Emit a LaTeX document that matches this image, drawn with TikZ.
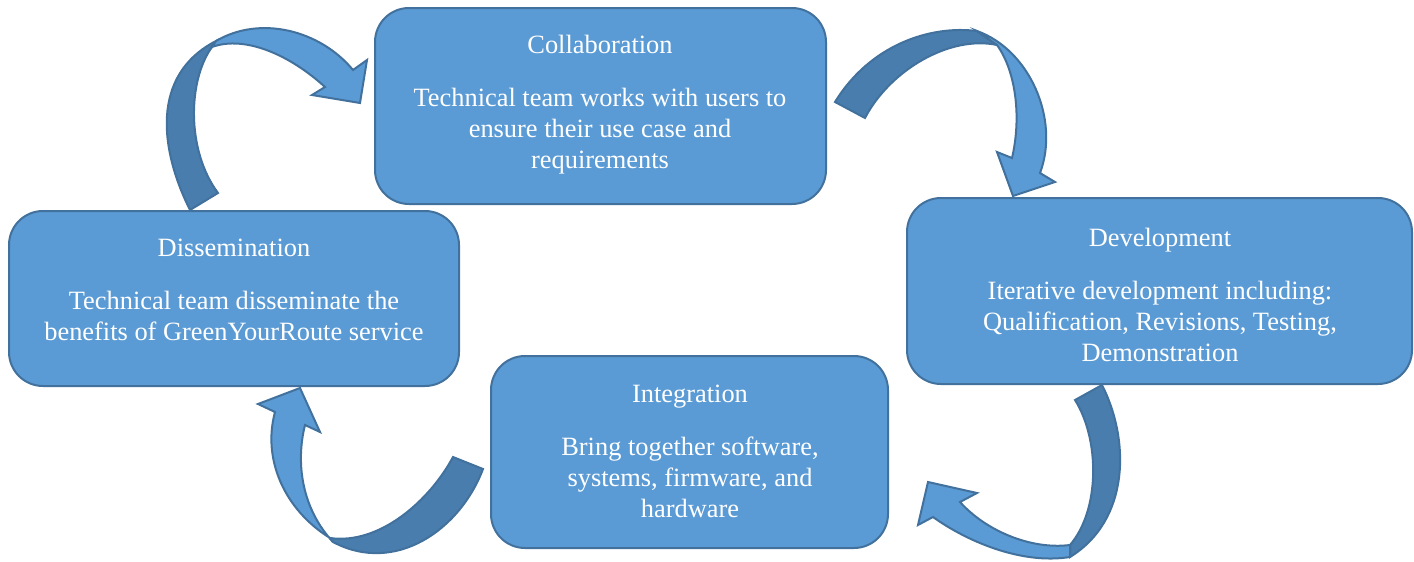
\documentclass[tikz,border=0pt]{standalone}
\usepackage{fontspec}
\setmainfont{Liberation Serif}
\begin{document}
\definecolor{boxfill}{HTML}{5B9BD5}
\definecolor{boxline}{HTML}{41719C}
\definecolor{backface}{HTML}{497DAD}
\tikzset{
  stagebox/.style={draw=boxline, line width=1pt, fill=boxfill, rounded corners=17pt,
    rectangle, inner sep=0pt},
  stagetext/.style={text=white, align=center, inner sep=0pt,
    font=\fontsize{13.2}{15.5}\selectfont},
  frontband/.style={draw=boxline, line width=1pt, fill=boxfill, line join=miter},
  backband/.style={draw=boxline, line width=1pt, fill=backface, line join=miter},
}
\begin{tikzpicture}[x=0.5pt,y=-0.5pt]
\useasboundingbox (0,0) rectangle (1414,562);

% stage boxes
\node[stagebox, minimum width=225.5pt, minimum height=98pt] (collab) at (600.5,106) {};
\node[stagebox, minimum width=252.5pt, minimum height=93pt] (devel) at (1159.5,291) {};
\node[stagebox, minimum width=225pt, minimum height=87.5pt] (dissem) at (234,298.5) {};
\node[stagebox, minimum width=198.5pt, minimum height=96pt] (integ) at (689.5,452) {};

% stage texts
\node[stagetext] (collabtext) at (600,105) {Collaboration\\[11pt]Technical team works with users to\\ensure their use case and\\requirements};
\node[stagetext] (develtext) at (1160,294.5) {Development\\[11pt]Iterative development including:\\Qualification, Revisions, Testing,\\Demonstration};
\node[stagetext] (dissemtext) at (234,290) {Dissemination\\[11pt]Technical team disseminate the\\benefits of GreenYourRoute service};
\node[stagetext] (integtext) at (690,451) {Integration\\[11pt]Bring together software,\\systems, firmware, and\\hardware};

% curved arrow: dissemination -> collaboration
\draw[backband] (190,210) .. controls (160,150) and (150,75) .. (216,41)
  -- (212,47) .. controls (188,80) and (186,150) .. (218,193) -- cycle;
\draw[frontband] (216,41) .. controls (260,15) and (320,30) .. (353,70)
  -- (367,60) -- (360,103) -- (312,95) -- (325,87)
  .. controls (290,55) and (245,35) .. (212,47) -- cycle;

% curved arrow: collaboration -> development
\draw[backband] (835,102) .. controls (870,45) and (930,25) .. (977,31)
  -- (997,45) .. controls (950,35) and (890,70) .. (865,118) -- cycle;
\draw[frontband] (977,31) .. controls (1030,50) and (1060,120) .. (1040,173)
  -- (1055,182) -- (1013,196) -- (997,152) -- (1012,158)
  .. controls (1022,115) and (1015,70) .. (997,45) -- cycle;

% curved arrow: development -> integration
\draw[backband] (1075,400) -- (1102,385) .. controls (1130,440) and (1130,520) .. (1070,557)
  -- (1070,545) .. controls (1100,510) and (1100,440) .. (1075,400) -- cycle;
\draw[frontband] (1070,557) .. controls (1020,565) and (965,540) .. (933,517)
  -- (918,525) -- (928,482) -- (977,493) -- (960,502)
  .. controls (985,530) and (1030,550) .. (1070,545) -- cycle;

% curved arrow: integration -> dissemination
\draw[backband] (453,457) -- (483,469) .. controls (460,530) and (395,575) .. (333,542)
  -- (330,538) .. controls (380,545) and (430,500) .. (453,457) -- cycle;
\draw[frontband] (330,538) .. controls (285,510) and (262,460) .. (275,412)
  -- (258,404) -- (300,388) -- (320,432) -- (305,425)
  .. controls (295,465) and (303,510) .. (333,542) -- cycle;
\end{tikzpicture}
\end{document}
